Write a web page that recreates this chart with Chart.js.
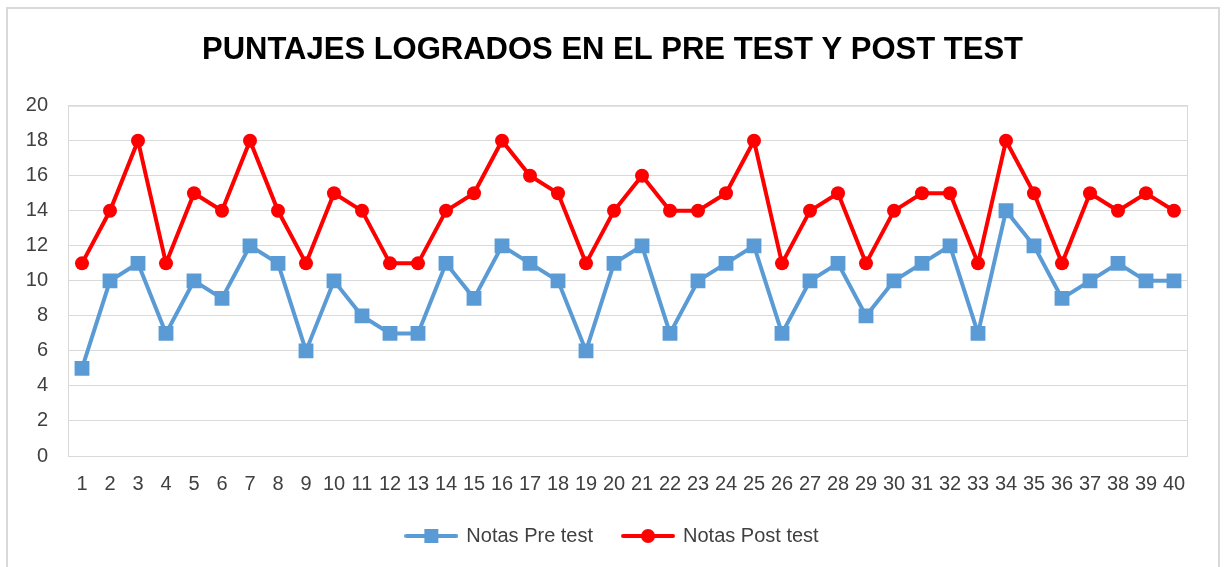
<!DOCTYPE html>
<html>
<head>
<meta charset="utf-8">
<script src="https://cdn.jsdelivr.net/npm/chart.js@4.4.0/dist/chart.umd.min.js"></script>
<style>
  body { margin: 0; background: #fff; }
  #wrap { position: relative; width: 1225px; height: 567px; }
  #marco { position: absolute; left: 6px; top: 7px; width: 1210px; height: 570px; border: 2px solid #d9d9d9; pointer-events: none; }
</style>
</head>
<body>
<div id="wrap">
  <canvas id="chartPuntajes" width="1225" height="567"></canvas>
  <div id="marco"></div>
</div>
<script>
const titulo = 'PUNTAJES LOGRADOS EN EL PRE TEST Y POST TEST';
const alumnos = ['1','2','3','4','5','6','7','8','9','10','11','12','13','14','15','16','17','18','19','20',
                 '21','22','23','24','25','26','27','28','29','30','31','32','33','34','35','36','37','38','39','40'];
const notasPre = [5,10,11,7,10,9,12,11,6,10,8,7,7,11,9,12,11,10,6,11,
                  12,7,10,11,12,7,10,11,8,10,11,12,7,14,12,9,10,11,10,10];
const notasPost = [11,14,18,11,15,14,18,14,11,15,14,11,11,14,15,18,16,15,11,14,
                   16,14,14,15,18,11,14,15,11,14,15,15,11,18,15,11,15,14,15,14];

const azul = '#5b9bd5';
const rojo = '#ff0000';
const fuente = "'Liberation Sans Narrow', 'Arial Narrow', 'Liberation Sans', Arial, sans-serif";

// icono de leyenda: linea con marcador en el centro
const iconoLeyenda = (color, forma) => {
    const c = document.createElement('canvas');
    c.width = 54;
    c.height = 16;
    const g = c.getContext('2d');
    g.strokeStyle = color;
    g.lineWidth = 4;
    g.lineCap = 'round';
    g.beginPath();
    g.moveTo(2, 8);
    g.lineTo(52, 8);
    g.stroke();
    g.fillStyle = color;
    if (forma === 'rect') {
        g.fillRect(20, 1, 14, 14);
    } else {
        g.beginPath();
        g.arc(27, 8, 7, 0, Math.PI * 2);
        g.fill();
    }
    return c;
}

const bordeArea = {
    id: 'bordeArea',
    beforeDatasetsDraw(chart) {
        const { ctx, chartArea } = chart;
        ctx.save();
        ctx.strokeStyle = '#d9d9d9';
        ctx.lineWidth = 1;
        ctx.strokeRect(chartArea.left + 0.5, chartArea.top + 0.5, chartArea.width - 1, chartArea.height);
        ctx.restore();
    }
}

const ctx = document.getElementById('chartPuntajes').getContext('2d');

const chartPuntajes = new Chart(ctx, {
    type: 'line',
    data: {
        labels: alumnos,
        datasets: [{
            label: 'Notas Pre test',
            data: notasPre,
            borderColor: azul,
            backgroundColor: azul,
            borderWidth: 4,
            pointStyle: 'rect',
            pointRadius: 10.5,
            pointBorderWidth: 0,
            tension: 0
        }, {
            label: 'Notas Post test',
            data: notasPost,
            borderColor: rojo,
            backgroundColor: rojo,
            borderWidth: 4,
            pointStyle: 'circle',
            pointRadius: 7,
            pointBorderWidth: 0,
            tension: 0
        }]
    },
    options: {
        responsive: false,
        animation: false,
        layout: { padding: { left: 0, right: 0, top: 0, bottom: 11 } },
        plugins: {
            title: {
                display: true,
                text: titulo,
                color: '#000',
                font: { family: fuente, size: 31, weight: 'bold' },
                padding: { top: 32, bottom: 36.5 }
            },
            legend: {
                position: 'bottom',
                labels: {
                    usePointStyle: true,
                    pointStyleWidth: 50,
                    padding: 30,
                    color: '#404040',
                    font: { family: fuente, size: 20 },
                    generateLabels(chart) {
                        const items = Chart.defaults.plugins.legend.labels.generateLabels(chart);
                        items[0].pointStyle = iconoLeyenda(azul, 'rect');
                        items[1].pointStyle = iconoLeyenda(rojo, 'circle');
                        return items;
                    }
                }
            },
            tooltip: { enabled: false }
        },
        scales: {
            x: {
                offset: true,
                afterFit(scale) { scale.height = 40; },
                grid: { display: false, drawTicks: false },
                border: { display: false },
                ticks: {
                    autoSkip: false,
                    maxRotation: 0,
                    padding: 16,
                    color: '#404040',
                    font: { family: fuente, size: 20 }
                }
            },
            y: {
                min: 0,
                max: 20,
                afterFit(scale) { scale.width = 68; },
                grid: { color: '#d9d9d9', drawTicks: false },
                border: { display: false },
                ticks: {
                    stepSize: 2,
                    padding: 20,
                    color: '#404040',
                    font: { family: fuente, size: 20 }
                }
            },
            // eje vacio a la derecha solo para reservar el margen
            margen: {
                position: 'right',
                afterFit(scale) { scale.width = 37; },
                grid: { display: false },
                border: { display: false },
                ticks: { display: false }
            }
        }
    },
    plugins: [bordeArea]
})
</script>
</body>
</html>
